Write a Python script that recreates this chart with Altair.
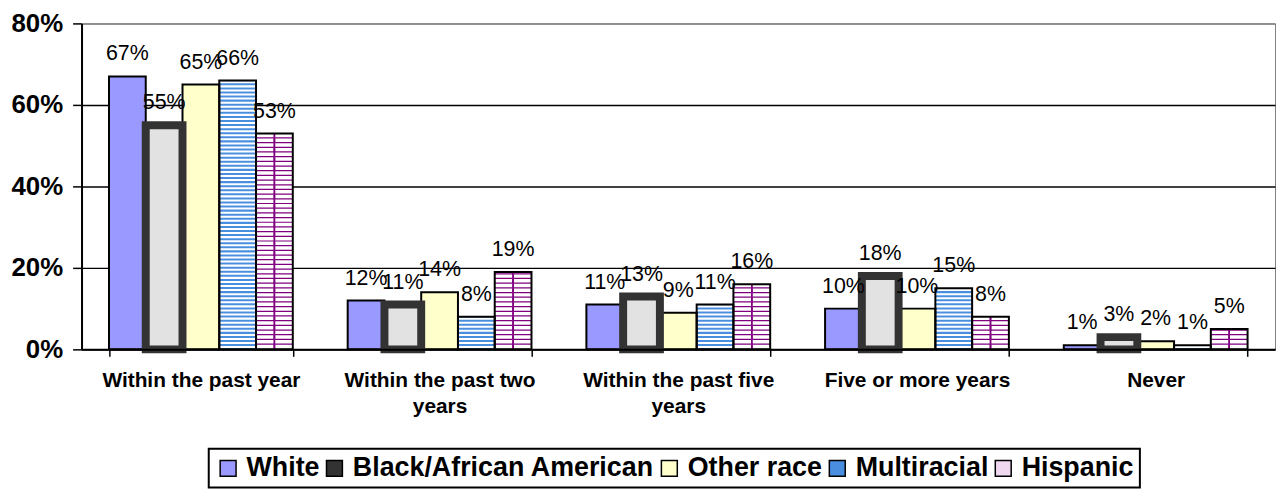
import altair as alt
import numpy as np
import pandas as pd

categories = ["Within the past year", "Within the past two years",
              "Within the past five years", "Five or more years", "Never"]
races = ["White", "Black/African American", "Other race", "Multiracial", "Hispanic"]

white = [67, 12, 11, 10, 1]
black = [55, 11, 13, 18, 3]
other = [65, 14, 9, 10, 2]
multiracial = [66, 8, 11, 15, 1]
hispanic = [53, 19, 16, 8, 5]

y_ticks = [0, 0.2, 0.4, 0.6, 0.8]
legend_colors = ["#9999ff", "#333333", "#ffffcc", "#4a8ee0", "#f0d8f0"]
bar_colors = ["#9999ff", "#e2e2e2", "#ffffcc", "#4a8ee0", "#ffffff"]

FONT = "Liberation Sans"
BLACK_RACE = "Black/African American"
PURPLE = "#800080"

series = {"White": white, BLACK_RACE: black, "Other race": other,
          "Multiracial": multiracial, "Hispanic": hispanic}

rows = []
for i, c in enumerate(categories):
    for r in races:
        v = series[r][i]
        rows.append({"category": c, "race": r, "value": v / 100.0, "label": f"{v}%"})
df = pd.DataFrame(rows)

# decorative pattern texture (stripes / bricks), derived from the bar heights
stripe_rows = []
joint_rows = []
BRICK = 1.15
for i, c in enumerate(categories):
    v = multiracial[i]
    for lv in np.arange(0.3, v - 0.5, 1.0):
        stripe_rows.append({"category": c, "race": "Multiracial", "y0": lv / 100, "y1": (lv + 0.5) / 100, "kind": "m"})
    v = hispanic[i]
    for lv in np.arange(BRICK, v - 0.2, BRICK):
        stripe_rows.append({"category": c, "race": "Hispanic", "y0": lv / 100, "y1": (lv + 0.3) / 100, "kind": "h"})
    k = 0
    while BRICK * k < v - 0.3:
        top = min(BRICK * (k + 1), v)
        joint_rows.append({"category": c, "race": "Hispanic", "y0": BRICK * k / 100, "y1": top / 100, "parity": k % 2})
        k += 1
stripes = pd.DataFrame(stripe_rows)
joints = pd.DataFrame(joint_rows)

xscale = alt.Scale(domain=categories, paddingInner=0.23, paddingOuter=0.115)
offscale = alt.Scale(domain=races, paddingInner=0, paddingOuter=0)
yscale = alt.Scale(domain=[0, 0.8], nice=False)

label_expr = ("datum.value == 'Within the past two years' ? ['Within the past two', 'years'] : "
              "datum.value == 'Within the past five years' ? ['Within the past five', 'years'] : datum.label")

xaxis = alt.Axis(title=None, labelAngle=0, labelFont=FONT, labelFontSize=21, labelFontWeight="bold",
                 labelColor="black", labelPadding=13, labelLineHeight=27, labelExpr=label_expr,
                 labelLimit=400, tickBand="extent", tickSize=7, tickColor="black", tickWidth=1.5,
                 domainColor="black", domainWidth=2, grid=False, zindex=1)
yaxis = alt.Axis(title=None, values=y_ticks, format=".0%", labelFont=FONT, labelFontSize=26,
                 labelFontWeight="bold", labelColor="black", labelPadding=10, tickSize=9,
                 tickColor="black", tickWidth=1.5, domainColor="black", domainWidth=2,
                 grid=True, gridWidth=1.5,
                 gridColor={"condition": {"test": "datum.value >= 0.79", "value": "#808080"}, "value": "black"})

is_black = alt.datum.race == BLACK_RACE

base = alt.Chart(df).encode(
    x=alt.X("category:N", sort=categories, scale=xscale, axis=xaxis),
    xOffset=alt.XOffset("race:N", sort=races, scale=offscale),
    y=alt.Y("value:Q", scale=yscale, axis=yaxis),
)

legend_layer = base.mark_bar(opacity=0).encode(
    color=alt.Color("race:N", sort=races, scale=alt.Scale(domain=races, range=legend_colors),
                    legend=alt.Legend(title=None, orient="none", legendX=128, legendY=428,
                                      direction="horizontal")),
)

fill_layer = base.transform_filter(~is_black).mark_bar().encode(
    fill=alt.Fill("race:N", sort=races, scale=alt.Scale(domain=races, range=bar_colors), legend=None),
)

stripe_layer = alt.Chart(stripes).mark_bar().encode(
    x=alt.X("category:N", sort=categories, scale=xscale),
    xOffset=alt.XOffset("race:N", sort=races, scale=offscale),
    y=alt.Y("y0:Q", scale=yscale),
    y2="y1:Q",
    fill=alt.condition(alt.datum.kind == "m", alt.value("#ffffff"), alt.value(PURPLE)),
)

joint_layers = []
for parity, dxs in [(0, [-12.5, 0.0, 12.5]), (1, [-6.25, 6.25])]:
    for dx in dxs:
        joint_layers.append(
            alt.Chart(joints).transform_filter(alt.datum.parity == parity).mark_bar(
                color=PURPLE, width=1.5, xOffset=dx
            ).encode(
                x=alt.X("category:N", sort=categories, scale=xscale),
                xOffset=alt.XOffset("race:N", sort=races, scale=offscale),
                y=alt.Y("y0:Q", scale=yscale),
                y2="y1:Q",
            )
        )

outline_layer = base.transform_filter(~is_black).mark_bar(fill="transparent", stroke="black", strokeWidth=2)

black_layer = base.transform_filter(is_black).mark_bar(
    fill="#e2e2e2", stroke="#333333", strokeWidth=8, y2Offset=-4
)

labels = base.mark_text(font=FONT, fontSize=21.5, color="black", baseline="middle", dy=-22).encode(
    text="label:N"
)

chart = alt.layer(legend_layer, fill_layer, stripe_layer, *joint_layers, outline_layer, black_layer, labels).properties(
    width=1201, height=328,
    autosize=alt.AutoSizeParams(type="none"),
    padding={"left": 74, "top": 14, "right": 5, "bottom": 140},
).configure_view(
    stroke="#808080", strokeWidth=1
).configure_legend(
    strokeColor="black", strokeWidth=2, padding=6, labelFont=FONT, labelFontSize=27,
    labelFontWeight="bold", labelColor="black", symbolType="square", symbolSize=256,
    symbolStrokeColor="black", symbolStrokeWidth=1.5, symbolOpacity=1, columnPadding=1,
    labelOffset=5, labelLimit=500
)

chart.save("out.html", embed_options={"renderer": "svg", "actions": False})
